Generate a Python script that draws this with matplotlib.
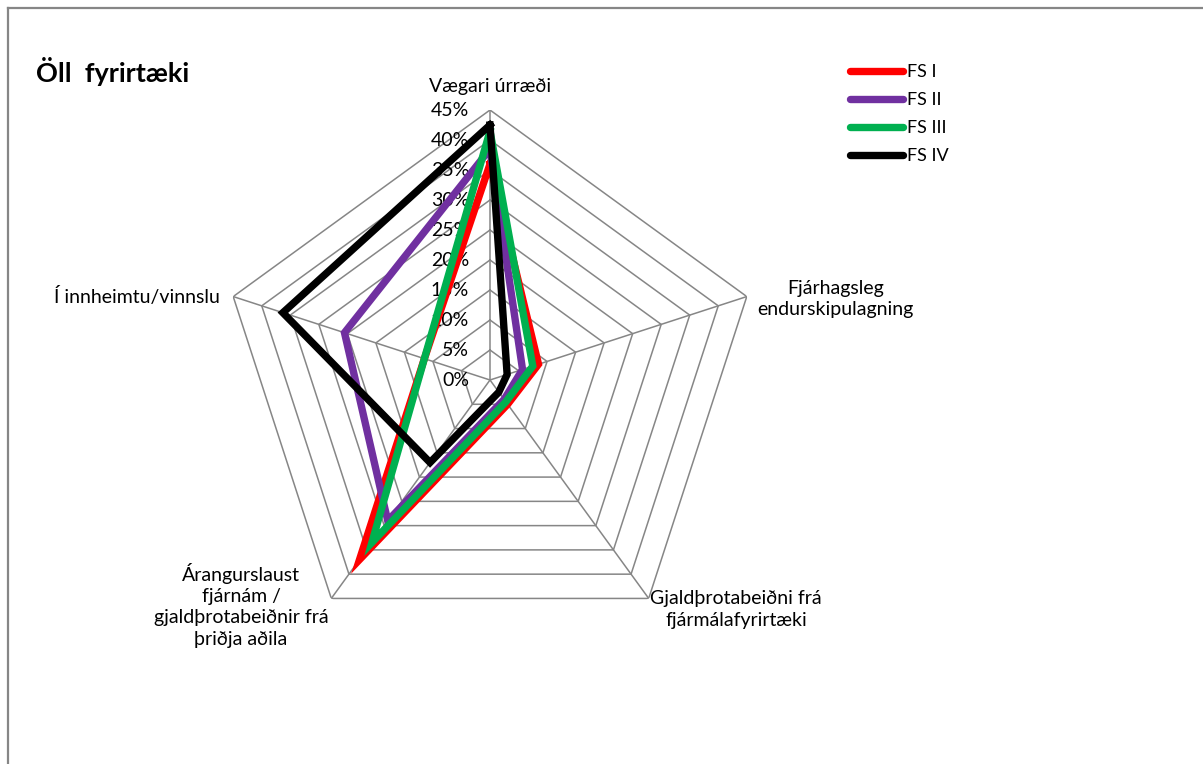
import numpy as np
import matplotlib

matplotlib.use("Agg")
import matplotlib.pyplot as plt
from matplotlib.lines import Line2D

plt.rcParams["font.family"] = ["Lato", "DejaVu Sans"]

categories = [
    "Vægari úrræði",
    "Fjárhagsleg\nendurskipulagning",
    "Gjaldþrotabeiðni frá\nfjármálafyrirtæki",
    "Árangurslaust\nfjárnám /\ngjaldþrotabeiðnir frá\nþriðja aðila",
    "Í innheimtu/vinnslu",
]
series_names = ["FS I", "FS II", "FS III", "FS IV"]
fs1 = [0.360, 0.085, 0.050, 0.370, 0.115]
fs2 = [0.385, 0.057, 0.040, 0.290, 0.255]
fs3 = [0.415, 0.075, 0.045, 0.335, 0.115]
fs4 = [0.425, 0.030, 0.025, 0.170, 0.363]
series_colors = ["#ff0000", "#7030a0", "#00b050", "#000000"]
rings = [0.05, 0.10, 0.15, 0.20, 0.25, 0.30, 0.35, 0.40, 0.45]
ring_labels = ["0%", "5%", "10%", "15%", "20%", "25%", "30%", "35%", "40%", "45%"]

W, H = 1203, 764
fig = plt.figure(figsize=(W / 100, H / 100), dpi=100)

# chart-area border (top and left edges only show)
grey = "#868686"
fig.add_artist(Line2D([8 / W, 1.0], [1 - 8 / H, 1 - 8 / H], color=grey, lw=1.6,
                      transform=fig.transFigure))
fig.add_artist(Line2D([8 / W, 8 / W], [0, 1 - 8 / H], color=grey, lw=1.6,
                      transform=fig.transFigure))

cx, cy, R = 490, 384, 270
ax = fig.add_axes([(cx - R) / W, (cy - R) / H, 2 * R / W, 2 * R / H],
                  projection="polar")
ax.set_theta_zero_location("N")
ax.set_theta_direction(-1)
ax.set_ylim(0, 0.45)
ax.grid(False)
ax.set_xticks([])
ax.set_yticks([])
ax.spines["polar"].set_visible(False)
ax.patch.set_visible(False)

n = len(categories)
theta = np.linspace(0, 2 * np.pi, n, endpoint=False)
closed = np.append(theta, theta[0])

# pentagon grid
for r in rings:
    ax.plot(closed, [r] * (n + 1), color=grey, lw=1.1, zorder=1)
for t in theta:
    ax.plot([t, t], [0, 0.45], color=grey, lw=1.1, zorder=1)

# radial value labels along the top spoke
for r, lab in zip([0.0] + rings, ring_labels):
    ax.annotate(lab, (0, r), xytext=(-15, 0), textcoords="offset points",
                ha="right", va="center", fontsize=14, zorder=2)

# data series
for name, vals, col in zip(series_names, [fs1, fs2, fs3, fs4], series_colors):
    ax.plot(closed, vals + vals[:1], color=col, lw=5.3, label=name,
            solid_joinstyle="miter", zorder=3)

# category labels at the spoke tips
label_offsets = [(0, 17), (64, -2), (63, -8), (-65, -5), (-69, 0)]
for t, cat, off in zip(theta, categories, label_offsets):
    ax.annotate(cat, (t, 0.45), xytext=off, textcoords="offset points",
                ha="center", va="center", fontsize=14, linespacing=1.3,
                annotation_clip=False)

fig.text(36 / W, 1 - 72 / H, "Öll  fyrirtæki", fontsize=19.5, fontweight="bold",
         va="center", ha="left")

leg = fig.legend(loc="upper left", bbox_to_anchor=(843 / W, 1 - 57 / H),
                 frameon=False, fontsize=13, handlelength=2.9,
                 handletextpad=0.25, labelspacing=0.66, borderaxespad=0)
for line in leg.get_lines():
    line.set_solid_capstyle("round")
    line.set_linewidth(5.3)

fig.savefig("out.png", dpi=100, facecolor="white")
